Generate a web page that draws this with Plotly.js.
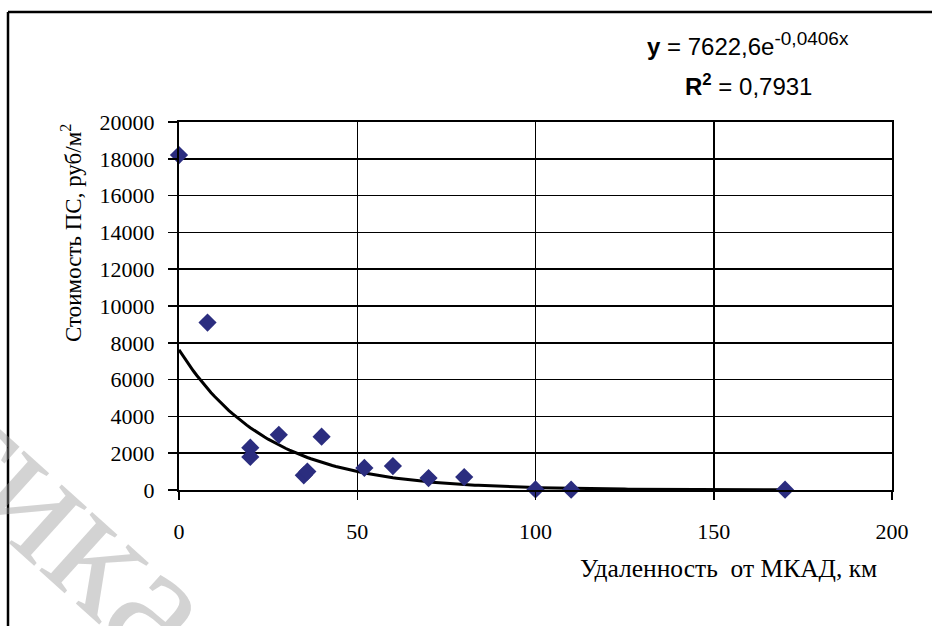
<!DOCTYPE html>
<html>
<head>
<meta charset="utf-8">
<script src="https://cdn.plot.ly/plotly-3.0.1.min.js"></script>
<style>html,body{margin:0;padding:0;background:#fff;}#chart{width:932px;height:626px;}</style>
</head>
<body>
<div id="chart"></div>
<script>
// Observed data: distance from MKAD (km) and cost (rub/m2)
const distanceKm = [0, 8, 20, 20, 28, 35, 36, 40, 52, 60, 70, 80, 100, 110, 170];
const costRub   = [18200, 9100, 2300, 1800, 3000, 800, 1000, 2900, 1200, 1300, 650, 700, 30, 20, 20];

// Exponential trendline as printed on the chart: y = a * e^(b x)
const trendA = 7622.6;
const trendB = -0.0406;
const trendX = [];
const trendY = [];
for (let x = 0; x <= 170; x += 1) { trendX.push(x); trendY.push(trendA * Math.exp(trendB * x)); }

const xTicks = [0, 50, 100, 150, 200];
const yTicks = [0, 2000, 4000, 6000, 8000, 10000, 12000, 14000, 16000, 18000, 20000];

const serif = 'Liberation Serif, Times New Roman, serif';
const sans = 'Liberation Sans, Arial, sans-serif';

const traces = [
  { x: trendX, y: trendY, mode: 'lines', type: 'scatter',
    line: { color: '#000', width: 3 }, hoverinfo: 'skip' },
  { x: distanceKm, y: costRub, mode: 'markers', type: 'scatter',
    marker: { symbol: 'diamond', size: 14, color: '#2b2d7f' }, cliponaxis: false }
];

// pixel helpers for frame shapes (plot area: x 179..892, y 122..490)
const L = 179, R = 40, T = 122, B = 136, W = 932, H = 626;
const pw = W - L - R, ph = H - T - B;
const px = v => (v - L) / pw;
const py = v => (H - B - v) / ph;

const layout = {
  width: W, height: H,
  margin: { l: L, r: R, t: T, b: B, pad: 0 },
  paper_bgcolor: '#fff', plot_bgcolor: '#fff',
  showlegend: false,
  xaxis: {
    range: [0, 200], tickvals: xTicks, ticktext: xTicks.map(String),
    showgrid: true, gridcolor: '#000', gridwidth: 1.5,
    showline: true, linecolor: '#000', linewidth: 2, mirror: true,
    ticks: 'outside', ticklen: 8, tickcolor: '#000', tickwidth: 1.5,
    ticklabelstandoff: 13,
    zeroline: false, tickfont: { family: serif, size: 22, color: '#000' }
  },
  yaxis: {
    range: [0, 20000], tickvals: yTicks, ticktext: yTicks.map(String),
    showgrid: true, gridcolor: '#000', gridwidth: 1.5,
    showline: true, linecolor: '#000', linewidth: 2, mirror: true,
    ticks: 'outside', ticklen: 9, tickcolor: '#000', tickwidth: 1.5,
    ticklabelstandoff: 9,
    zeroline: false, tickfont: { family: serif, size: 22, color: '#000' }
  },
  annotations: [
    { text: 'тика', xref: 'paper', yref: 'paper', x: px(72), y: py(522),
      xanchor: 'center', yanchor: 'middle',
      showarrow: false, textangle: 42, font: { family: serif, size: 172, color: 'rgba(150,150,150,0.42)' } },
    { text: 'Стоимость ПС, руб/м<sup>2</sup>', xref: 'paper', yref: 'paper',
      x: px(71), y: py(233), xanchor: 'center', yanchor: 'middle', textangle: -90,
      showarrow: false, font: { family: serif, size: 23, color: '#000' } },
    { text: 'Удаленность&nbsp; от МКАД, км', xref: 'paper', yref: 'paper',
      x: px(879), y: py(568), xanchor: 'right', yanchor: 'middle',
      showarrow: false, font: { family: serif, size: 25.5, color: '#000' } },
    { text: '<b>y</b> = 7622,6e<sup><span style="font-size:19px">-0,0406x</span></sup>', xref: 'paper', yref: 'paper',
      x: px(645), y: py(44), xanchor: 'left', yanchor: 'middle',
      showarrow: false, font: { family: sans, size: 24, color: '#000' } },
    { text: '<b>R<sup>2</sup></b> = 0,7931', xref: 'paper', yref: 'paper',
      x: px(683), y: py(85), xanchor: 'left', yanchor: 'middle',
      showarrow: false, font: { family: sans, size: 24, color: '#000' } }
  ],
  shapes: [
    { type: 'line', xref: 'paper', yref: 'paper', x0: px(8), x1: px(8), y0: py(12), y1: py(630),
      line: { color: '#000', width: 2.5 } },
    { type: 'line', xref: 'paper', yref: 'paper', x0: px(8), x1: px(935), y0: py(12), y1: py(12),
      line: { color: '#000', width: 2.5 } }
  ]
};

Plotly.newPlot('chart', traces, layout, { staticPlot: true, displayModeBar: false });
</script>
</body>
</html>
